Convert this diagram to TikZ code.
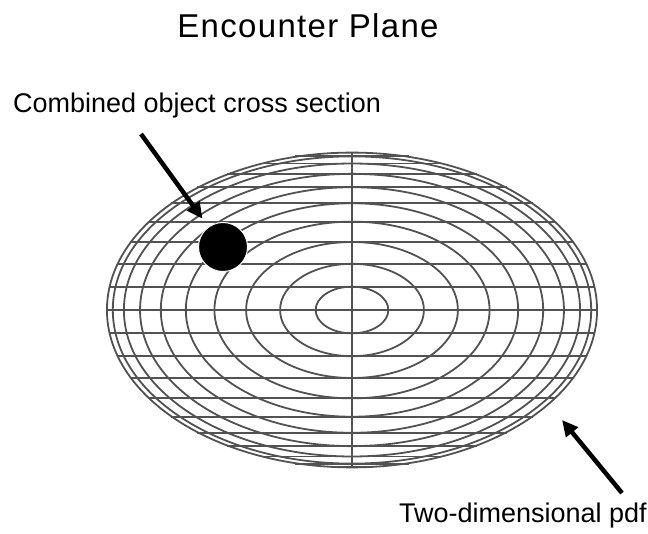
\documentclass[tikz,border=0pt]{standalone}
\usepackage{fontspec}
\setmainfont{Liberation Sans}
\usetikzlibrary{arrows.meta,positioning,calc}

\begin{document}
\begin{tikzpicture}[x=1pt,y=-1pt,
    grid/.style={black!68, line width=1.8pt},
    pointer/.style={-{Triangle[length=16pt,width=15pt]}, line width=4.5pt},
    lbl/.style={font=\fontsize{27}{30}\selectfont, inner sep=0pt}]
    \useasboundingbox (0,0) rectangle (648,534);

    % Centre of the encounter plane
    \coordinate (c) at (352,310);

    % Horizontal lines
    \foreach \k in {-10,...,10} {
        \pgfmathsetmacro{\yy}{158*sin(8.5*\k)}
        \pgfmathsetmacro{\xx}{246*cos(8.5*\k)}
        \draw[grid] ($(c)+(-\xx,\yy)$) -- ($(c)+(\xx,\yy)$);
    }

    % Vertical axis
    \draw[grid] ($(c)+(0,-158)$) -- ($(c)+(0,158)$);

    % Contours of the pdf
    \foreach \k in {1,...,10}
        \draw[grid] (c) ellipse [x radius={246*sin(8.5*\k)}, y radius={158*sin(8.5*\k)}];

    % Object cross section
    \node[circle, fill=black, draw=white, line width=1pt,
          minimum size=49pt, inner sep=0pt] (obj) at (223,247) {};

    % Labels
    \node[font=\fontsize{33}{38}\selectfont\addfontfeature{LetterSpace=4}, inner sep=0pt, anchor=base] (title) at (308,38) {Encounter Plane};
    \node[lbl, anchor=base west] (comb) at (13,113) {Combined object cross section};
    \node[lbl, anchor=base east] (pdf) at (647,522) {Two-dimensional pdf};

    % Arrows
    \coordinate (tail1) at (141,134);
    \coordinate (tail2) at (622,493);
    \coordinate (rim) at (562,420);
    \draw[pointer, shorten >=10pt] (tail1) -- (obj);
    \draw[pointer] (tail2) -- (rim);
\end{tikzpicture}
\end{document}
